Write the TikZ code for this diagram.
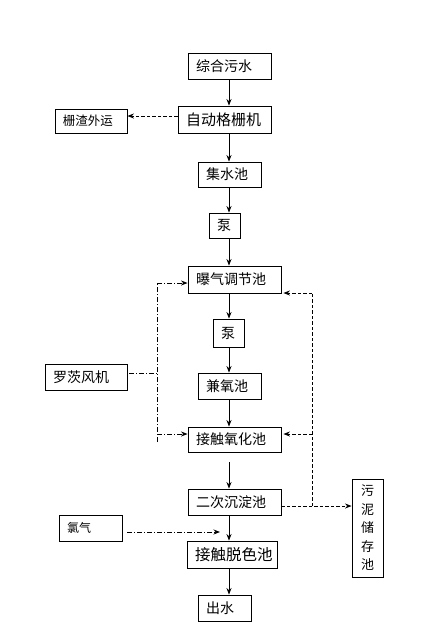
\documentclass[tikz,border=0pt]{standalone}
\usepackage{fontspec}
\setmainfont{Noto Sans CJK SC}
\usetikzlibrary{arrows.meta}
\begin{document}
\begin{tikzpicture}[x=1pt,y=-1pt,
  box/.style={draw, line width=0.9pt, inner ysep=0pt, inner xsep=8pt, align=left,
    font=\fontsize{14pt}{16pt}\selectfont},
  arr/.style={line width=0.9pt, -{Stealth[length=6.5pt,width=5pt]}},
  ln/.style={line width=0.9pt},
  dsh/.style={line width=0.9pt, dash pattern=on 3.5pt off 2pt},
  dd/.style={line width=0.9pt, dash pattern=on 5pt off 2pt on 1pt off 2pt},
  tip/.style={-{Stealth[length=6.5pt,width=5pt]}}]
\fill[white] (0,0) rectangle (438,633);
\useasboundingbox (0,0) rectangle (438,633);
\coordinate (ax) at (229,0);
\node[box, text width=67pt, minimum width=83pt, minimum height=26pt] (n1) at (229.5,66) {综合污水};
\node[box, text width=77pt, minimum width=93pt, minimum height=27pt, font=\fontsize{15pt}{17pt}\selectfont] (n2) at (224.5,119.5) {自动格栅机};
\node[box, text width=56pt, minimum width=72pt, minimum height=24pt, font=\fontsize{12.5pt}{14pt}\selectfont] (n3) at (91,121) {栅渣外运};
\node[box, text width=47pt, minimum width=63pt, minimum height=25pt] (n4) at (229.5,174.5) {集水池};
\node[box, text width=15pt, minimum width=31pt, minimum height=25pt] (n5) at (224.5,225.5) {泵};
\node[box, text width=77pt, minimum width=93pt, minimum height=27pt] (n6) at (234.5,279.5) {曝气调节池};
\node[box, text width=15pt, minimum width=31pt, minimum height=28pt] (n7) at (228.5,333) {泵};
\node[box, text width=47pt, minimum width=63pt, minimum height=26pt] (n8) at (229.5,386) {兼氧池};
\node[box, text width=77pt, minimum width=93pt, minimum height=25pt] (n9) at (234.5,439.5) {接触氧化池};
\node[box, text width=66pt, minimum width=82pt, minimum height=26pt] (n10) at (86,377) {罗茨风机};
\node[box, text width=77pt, minimum width=93pt, minimum height=26pt] (n11) at (234.5,502) {二次沉淀池};
\node[box, inner xsep=0pt, text width=31pt, minimum width=31pt, minimum height=98pt, align=center,
  font=\fontsize{13pt}{18.5pt}\selectfont] (n12) at (367.5,528) {污\\泥\\储\\存\\池};
\node[box, text width=47pt, minimum width=63pt, minimum height=26pt, font=\fontsize{12pt}{14pt}\selectfont] (n13) at (90.5,528) {氯气};
\node[box, text width=74pt, minimum width=90pt, minimum height=27pt, font=\fontsize{15.5pt}{17pt}\selectfont] (n14) at (232,554.5) {接触脱色池};
\node[box, text width=37pt, minimum width=53pt, minimum height=26pt] (n15) at (224.5,608) {出水};
% main flow
\draw[arr] (n1.south -| ax) -- (n2.north -| ax);
\draw[arr] (n2.south -| ax) -- (n4.north -| ax);
\draw[arr] (n4.south -| ax) -- (n5.north -| ax);
\draw[arr] (n5.south -| ax) -- (n6.north -| ax);
\draw[arr] (n6.south -| ax) -- (n7.north -| ax);
\draw[arr] (n7.south -| ax) -- (n8.north -| ax);
\draw[arr] (n8.south -| ax) -- (n9.north -| ax);
\draw[arr, shorten <=10pt] (n9.south -| ax) -- (n11.north -| ax);
\draw[arr] (n11.south -| ax) -- (n14.north -| ax);
\draw[arr] (n14.south -| ax) -- (n15.north -| ax);
% screenings
\coordinate (s1) at (0,116);
\draw[dsh, tip] (n2.west |- s1) -- (n3.east |- s1);
% blower
\coordinate (b1) at (157,373);
\coordinate (b2) at (157,283);
\coordinate (b3) at (157,434);
\coordinate (b4) at (157,442);
\draw[dd, shorten <=2pt] (n10.east |- b1) -- (b1);
\draw[dd] (b4) -- (b2);
\draw[dd, tip] (b2) -- (n6.west |- b2);
\draw[dd, tip] (b3) -- (n9.west |- b3);
% sludge / return
\coordinate (r1) at (312,506);
\coordinate (r2) at (312,293);
\coordinate (r3) at (312,434);
\draw[dsh, tip] (n11.east |- r1) -- (n12.west |- r1);
\draw[dsh] (r1) -- (r2);
\draw[dsh, tip, shorten >=2pt] (r2) -- (n6.east |- r2);
\draw[dsh, tip, shorten >=2pt] (r3) -- (n9.east |- r3);
% chlorine
\coordinate (c1) at (220,532);
\draw[dd, tip, shorten <=5pt] (n13.east |- c1) -- (c1);
\end{tikzpicture}
\end{document}
